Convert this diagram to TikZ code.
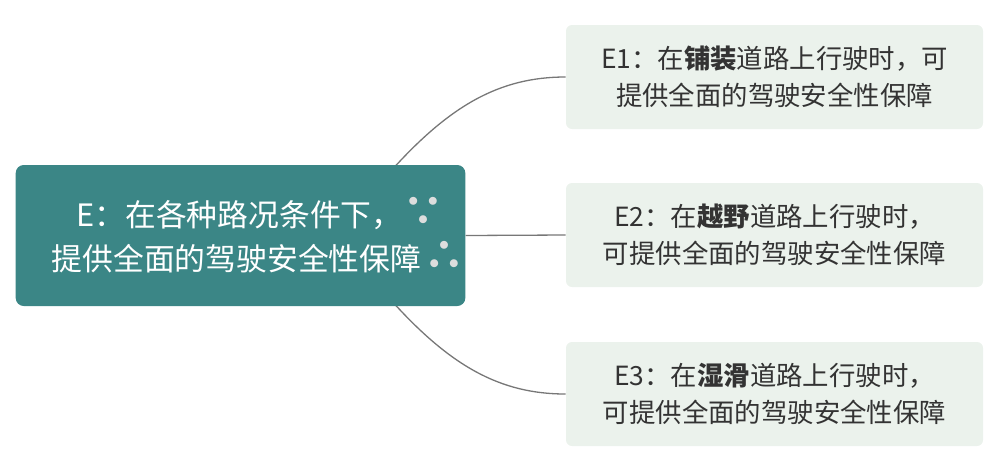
\documentclass[tikz,border=0pt]{standalone}
\usepackage{fontspec}
\setmainfont{Noto Sans CJK SC}
\definecolor{teal}{HTML}{3B8686}
\definecolor{paleleaf}{HTML}{EBF2EC}
\definecolor{textgray}{HTML}{333333}
\definecolor{dotgray}{HTML}{DDDDDD}
\definecolor{linegray}{HTML}{777777}
\tikzset{
  rootbox/.style={fill=teal, rounded corners=4pt, minimum width=223.5pt, minimum height=70.5pt,
    align=center, text=white, font=\fontsize{15.4}{22}\selectfont, inner sep=0pt},
  leafbox/.style={fill=paleleaf, rounded corners=3pt, minimum width=208.5pt, minimum height=52pt,
    align=center, text=textgray, font=\fontsize{13.2}{18.5}\selectfont, inner sep=0pt},
  branch/.style={draw=linegray, line width=0.65pt}
}
\newcommand{\because}{\textcolor{dotgray}{\bfseries\fontsize{21}{22}\selectfont ∵}}
\newcommand{\therefore}{\textcolor{dotgray}{\bfseries\fontsize{21}{22}\selectfont ∴}}
\begin{document}
\begin{tikzpicture}[x=0.5pt,y=-0.5pt]
\useasboundingbox (0,0) rectangle (994,467);
\node[leafbox] (e1) at (774.5,77) {E1：在\textbf{铺装}道路上行驶时，可\\提供全面的驾驶安全性保障};
\node[leafbox] (e2) at (774.5,235) {E2：在\textbf{越野}道路上行驶时，\\可提供全面的驾驶安全性保障};
\node[leafbox] (e3) at (774.5,394) {E3：在\textbf{湿滑}道路上行驶时，\\可提供全面的驾驶安全性保障};
\coordinate (up) at (390,172);
\coordinate (down) at (390,299);
\draw[branch] (up) .. controls (450,105) and (500,77) .. (e1.west);
\draw[branch] (down) .. controls (450,366) and (500,394) .. (e3.west);
\node[rootbox] (root) at (240.5,235.5) {\hspace*{20pt}E：在各种路况条件下，\because\\\hspace*{18pt}提供全面的驾驶安全性保障\hspace{1pt}\therefore};
\draw[branch] (root.east) -- (e2.west);
\end{tikzpicture}
\end{document}
